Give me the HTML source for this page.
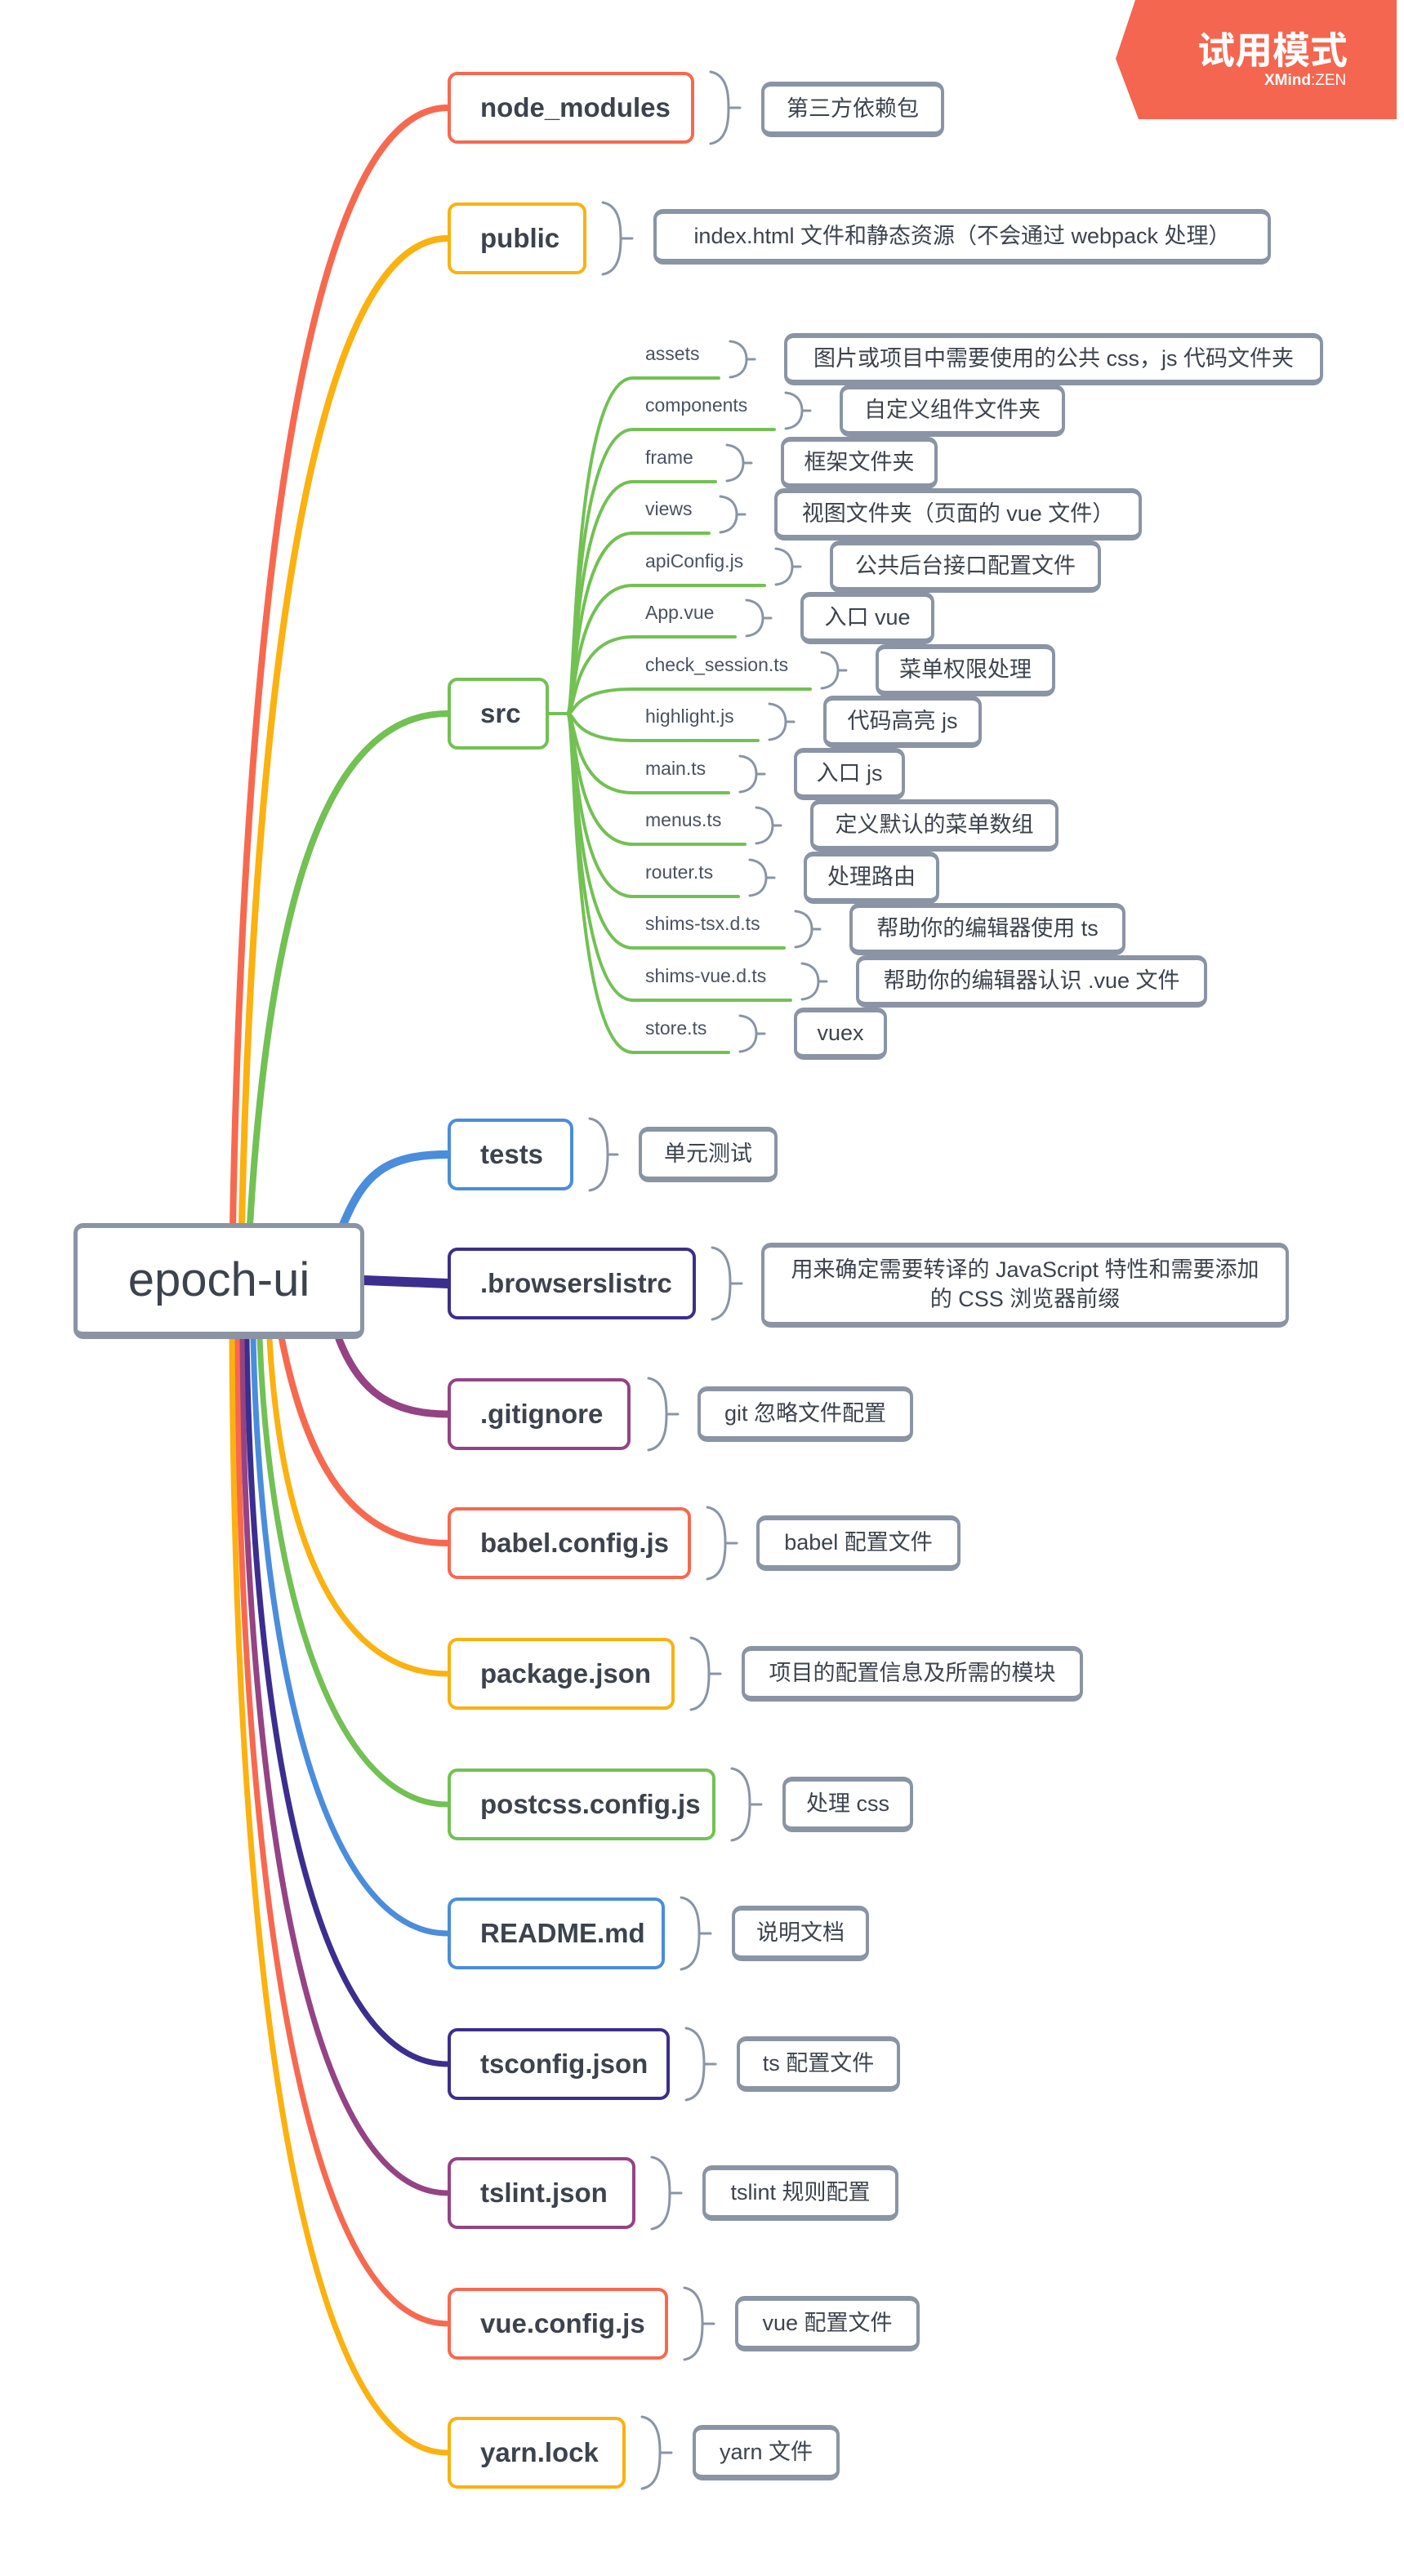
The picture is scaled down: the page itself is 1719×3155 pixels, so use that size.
<!DOCTYPE html>
<html><head><meta charset="utf-8">
<style>
html,body{margin:0;padding:0;background:#fff;}
body{width:1719px;height:3155px;position:relative;overflow:hidden;font-family:"Liberation Sans","Noto Sans CJK SC",sans-serif;}
svg{position:absolute;left:0;top:0;}
.n{position:absolute;box-sizing:border-box;background:#fff;border:4px solid;border-radius:12px;display:flex;align-items:center;padding-left:36px;font-size:33px;font-weight:bold;color:#3d434d;white-space:nowrap;}
.d{position:absolute;box-sizing:border-box;background:#fff;border:4px solid #8a94a4;border-top-width:6px;border-bottom-width:7px;border-radius:12px;display:flex;align-items:center;justify-content:center;font-size:27px;color:#3d434d;white-space:nowrap;text-align:center;line-height:1.3;}
.l{position:absolute;font-size:23px;color:#4a5260;white-space:nowrap;}
</style></head><body>
<svg width="1719" height="3155" viewBox="0 0 1719 3155" fill="none" stroke-linecap="round">
<!-- watermark -->
<polygon points="1390,0 1710,0 1710,146 1394,146 1366,72" fill="#f4664f"/>
<!-- main branches -->
<g fill="none">
<path d="M285 1500 C300 700 380 132 548 132" stroke="#f7694f" stroke-width="8"/>
<path d="M296 1500 C312 800 390 292 548 292" stroke="#fbb10f" stroke-width="8"/>
<path d="M306 1500 C330 1100 400 874 548 874" stroke="#72c153" stroke-width="8"/>
<path d="M420 1500 C445 1440 470 1414 548 1414" stroke="#4a8ddc" stroke-width="10"/>
<path d="M446 1568 L548 1572" stroke="#3b2e8e" stroke-width="12"/>
<path d="M415 1640 C440 1705 480 1732 548 1732" stroke="#954384" stroke-width="9"/>
<path d="M345 1640 C375 1790 430 1890 548 1890" stroke="#f7694f" stroke-width="8"/>
<path d="M330 1640 C345 1900 420 2050 548 2050" stroke="#fbb10f" stroke-width="7"/>
<path d="M318 1640 C330 1950 410 2210 548 2210" stroke="#72c153" stroke-width="7"/>
<path d="M310 1640 C320 2050 400 2368 548 2368" stroke="#4a8ddc" stroke-width="7"/>
<path d="M302 1640 C310 2150 390 2528 548 2528" stroke="#3b2e8e" stroke-width="7"/>
<path d="M296 1640 C302 2250 385 2686 548 2686" stroke="#954384" stroke-width="7"/>
<path d="M290 1640 C295 2350 380 2846 548 2846" stroke="#f7694f" stroke-width="7"/>
<path d="M284 1640 C288 2450 375 3004 548 3004" stroke="#fbb10f" stroke-width="7"/>
</g>
<!-- src children -->
<g stroke="#72c153" stroke-width="4" fill="none">
<path d="M672 874 H695 C705 874 700 463 775 463 H880"/>
<path d="M672 874 H695 C705 874 700 526 775 526 H948"/>
<path d="M672 874 H695 C705 874 700 590 775 590 H876"/>
<path d="M672 874 H695 C705 874 700 653 775 653 H868"/>
<path d="M672 874 H695 C705 874 700 717 775 717 H936"/>
<path d="M672 874 H695 C705 874 700 780 775 780 H900"/>
<path d="M672 874 H695 C705 874 700 844 775 844 H992"/>
<path d="M672 874 H695 C705 874 700 907 775 907 H928"/>
<path d="M672 874 H695 C705 874 700 971 775 971 H892"/>
<path d="M672 874 H695 C705 874 700 1034 775 1034 H912"/>
<path d="M672 874 H695 C705 874 700 1098 775 1098 H904"/>
<path d="M672 874 H695 C705 874 700 1161 775 1161 H960"/>
<path d="M672 874 H695 C705 874 700 1225 775 1225 H968"/>
<path d="M672 874 H695 C705 874 700 1289 775 1289 H892"/>
</g>
<!-- brackets -->
<g stroke="#8a94a4" stroke-width="3" fill="none">
<path d="M870 88 C892 92 892 120 892 132 C892 144 892 172 870 176 M892 132 H906"/>
<path d="M738 248 C760 252 760 280 760 292 C760 304 760 332 738 336 M760 292 H774"/>
<path d="M722 1370 C744 1374 744 1402 744 1414 C744 1426 744 1454 722 1458 M744 1414 H756"/>
<path d="M872 1528 C894 1532 894 1560 894 1572 C894 1584 894 1612 872 1616 M894 1572 H908"/>
<path d="M794 1688 C816 1692 816 1720 816 1732 C816 1744 816 1772 794 1776 M816 1732 H830"/>
<path d="M866 1846 C888 1850 888 1878 888 1890 C888 1902 888 1930 866 1934 M888 1890 H902"/>
<path d="M846 2006 C868 2010 868 2038 868 2050 C868 2062 868 2090 846 2094 M868 2050 H882"/>
<path d="M896 2166 C918 2170 918 2198 918 2210 C918 2222 918 2250 896 2254 M918 2210 H932"/>
<path d="M834 2324 C856 2328 856 2356 856 2368 C856 2380 856 2408 834 2412 M856 2368 H870"/>
<path d="M840 2484 C862 2488 862 2516 862 2528 C862 2540 862 2568 840 2572 M862 2528 H876"/>
<path d="M798 2642 C820 2646 820 2674 820 2686 C820 2698 820 2726 798 2730 M820 2686 H834"/>
<path d="M838 2802 C860 2806 860 2834 860 2846 C860 2858 860 2886 838 2890 M860 2846 H874"/>
<path d="M786 2960 C808 2964 808 2992 808 3004 C808 3016 808 3044 786 3048 M808 3004 H822"/>
</g>
<g stroke="#8a94a4" stroke-width="3" fill="none">
<path d="M894 418 C912 420 914 434 914 440 C914 446 912 460 894 462 M914 440 H924"/>
<path d="M962 481 C980 483 982 497 982 503 C982 509 980 523 962 525 M982 503 H992"/>
<path d="M890 545 C908 547 910 561 910 567 C910 573 908 587 890 589 M910 567 H920"/>
<path d="M882 608 C900 610 902 624 902 630 C902 636 900 650 882 652 M902 630 H912"/>
<path d="M950 672 C968 674 970 688 970 694 C970 700 968 714 950 716 M970 694 H980"/>
<path d="M914 735 C932 737 934 751 934 757 C934 763 932 777 914 779 M934 757 H944"/>
<path d="M1006 799 C1024 801 1026 815 1026 821 C1026 827 1024 841 1006 843 M1026 821 H1036"/>
<path d="M942 862 C960 864 962 878 962 884 C962 890 960 904 942 906 M962 884 H972"/>
<path d="M906 926 C924 928 926 942 926 948 C926 954 924 968 906 970 M926 948 H936"/>
<path d="M926 989 C944 991 946 1005 946 1011 C946 1017 944 1031 926 1033 M946 1011 H956"/>
<path d="M918 1053 C936 1055 938 1069 938 1075 C938 1081 936 1095 918 1097 M938 1075 H948"/>
<path d="M974 1116 C992 1118 994 1132 994 1138 C994 1144 992 1158 974 1160 M994 1138 H1004"/>
<path d="M982 1180 C1000 1182 1002 1196 1002 1202 C1002 1208 1000 1222 982 1224 M1002 1202 H1012"/>
<path d="M906 1244 C924 1246 926 1260 926 1266 C926 1272 924 1286 906 1288 M926 1266 H936"/>
</g>
</svg>

<div style="position:absolute;left:1466px;top:26px;font-size:46px;font-weight:bold;color:#fff;font-family:'Liberation Sans','Noto Sans CJK SC',sans-serif;">试用模式</div>
<div style="position:absolute;left:1548px;top:88px;font-size:19px;color:#fff;"><b>XMind</b>:ZEN</div>

<!-- root -->
<div class="n" style="left:90px;top:1498px;width:356px;height:142px;border-color:#8a94a4;border-width:6px 5px 9px 5px;justify-content:center;padding:0;font-size:58px;font-weight:normal;color:#3d434d;">epoch-ui</div>

<!-- level 1 -->
<div class="n" style="left:548px;top:88px;width:302px;height:88px;border-color:#f7694f;">node_modules</div>
<div class="n" style="left:548px;top:248px;width:170px;height:88px;border-color:#fbb10f;">public</div>
<div class="n" style="left:548px;top:830px;width:124px;height:88px;border-color:#72c153;">src</div>
<div class="n" style="left:548px;top:1370px;width:154px;height:88px;border-color:#4a8ddc;">tests</div>
<div class="n" style="left:548px;top:1528px;width:304px;height:88px;border-color:#3b2e8e;">.browserslistrc</div>
<div class="n" style="left:548px;top:1688px;width:224px;height:88px;border-color:#954384;">.gitignore</div>
<div class="n" style="left:548px;top:1846px;width:298px;height:88px;border-color:#f7694f;">babel.config.js</div>
<div class="n" style="left:548px;top:2006px;width:278px;height:88px;border-color:#fbb10f;">package.json</div>
<div class="n" style="left:548px;top:2166px;width:328px;height:88px;border-color:#72c153;">postcss.config.js</div>
<div class="n" style="left:548px;top:2324px;width:266px;height:88px;border-color:#4a8ddc;">README.md</div>
<div class="n" style="left:548px;top:2484px;width:272px;height:88px;border-color:#3b2e8e;">tsconfig.json</div>
<div class="n" style="left:548px;top:2642px;width:230px;height:88px;border-color:#954384;">tslint.json</div>
<div class="n" style="left:548px;top:2802px;width:270px;height:88px;border-color:#f7694f;">vue.config.js</div>
<div class="n" style="left:548px;top:2960px;width:218px;height:88px;border-color:#fbb10f;">yarn.lock</div>

<!-- descriptions -->
<div class="d" style="left:932px;top:100px;width:224px;height:68px;">第三方依赖包</div>
<div class="d" style="left:800px;top:256px;width:756px;height:68px;">index.html 文件和静态资源（不会通过 webpack 处理）</div>
<div class="d" style="left:782px;top:1380px;width:170px;height:68px;">单元测试</div>
<div class="d" style="left:932px;top:1522px;width:646px;height:104px;">用来确定需要转译的 JavaScript 特性和需要添加<br>的 CSS 浏览器前缀</div>
<div class="d" style="left:854px;top:1698px;width:264px;height:68px;">git 忽略文件配置</div>
<div class="d" style="left:926px;top:1856px;width:250px;height:68px;">babel 配置文件</div>
<div class="d" style="left:908px;top:2016px;width:418px;height:68px;">项目的配置信息及所需的模块</div>
<div class="d" style="left:958px;top:2176px;width:160px;height:68px;">处理 css</div>
<div class="d" style="left:896px;top:2334px;width:168px;height:68px;">说明文档</div>
<div class="d" style="left:902px;top:2494px;width:200px;height:68px;">ts 配置文件</div>
<div class="d" style="left:860px;top:2652px;width:240px;height:68px;">tslint 规则配置</div>
<div class="d" style="left:900px;top:2812px;width:226px;height:68px;">vue 配置文件</div>
<div class="d" style="left:848px;top:2970px;width:180px;height:68px;">yarn 文件</div>

<!-- src child labels -->
<div class="l" style="left:790px;top:420px;">assets</div>
<div class="l" style="left:790px;top:483px;">components</div>
<div class="l" style="left:790px;top:547px;">frame</div>
<div class="l" style="left:790px;top:610px;">views</div>
<div class="l" style="left:790px;top:674px;">apiConfig.js</div>
<div class="l" style="left:790px;top:737px;">App.vue</div>
<div class="l" style="left:790px;top:801px;">check_session.ts</div>
<div class="l" style="left:790px;top:864px;">highlight.js</div>
<div class="l" style="left:790px;top:928px;">main.ts</div>
<div class="l" style="left:790px;top:991px;">menus.ts</div>
<div class="l" style="left:790px;top:1055px;">router.ts</div>
<div class="l" style="left:790px;top:1118px;">shims-tsx.d.ts</div>
<div class="l" style="left:790px;top:1182px;">shims-vue.d.ts</div>
<div class="l" style="left:790px;top:1246px;">store.ts</div>

<!-- src child boxes -->
<div class="d" style="left:960px;top:408px;width:660px;height:64px;">图片或项目中需要使用的公共 css，js 代码文件夹</div>
<div class="d" style="left:1028px;top:471px;width:276px;height:64px;">自定义组件文件夹</div>
<div class="d" style="left:956px;top:535px;width:192px;height:64px;">框架文件夹</div>
<div class="d" style="left:948px;top:598px;width:450px;height:64px;">视图文件夹（页面的 vue 文件）</div>
<div class="d" style="left:1016px;top:662px;width:332px;height:64px;">公共后台接口配置文件</div>
<div class="d" style="left:980px;top:725px;width:164px;height:64px;">入口 vue</div>
<div class="d" style="left:1072px;top:789px;width:220px;height:64px;">菜单权限处理</div>
<div class="d" style="left:1008px;top:852px;width:194px;height:64px;">代码高亮 js</div>
<div class="d" style="left:972px;top:916px;width:136px;height:64px;">入口 js</div>
<div class="d" style="left:992px;top:979px;width:304px;height:64px;">定义默认的菜单数组</div>
<div class="d" style="left:984px;top:1043px;width:166px;height:64px;">处理路由</div>
<div class="d" style="left:1040px;top:1106px;width:338px;height:64px;">帮助你的编辑器使用 ts</div>
<div class="d" style="left:1048px;top:1170px;width:430px;height:64px;">帮助你的编辑器认识 .vue 文件</div>
<div class="d" style="left:972px;top:1234px;width:114px;height:64px;">vuex</div>
</body></html>
